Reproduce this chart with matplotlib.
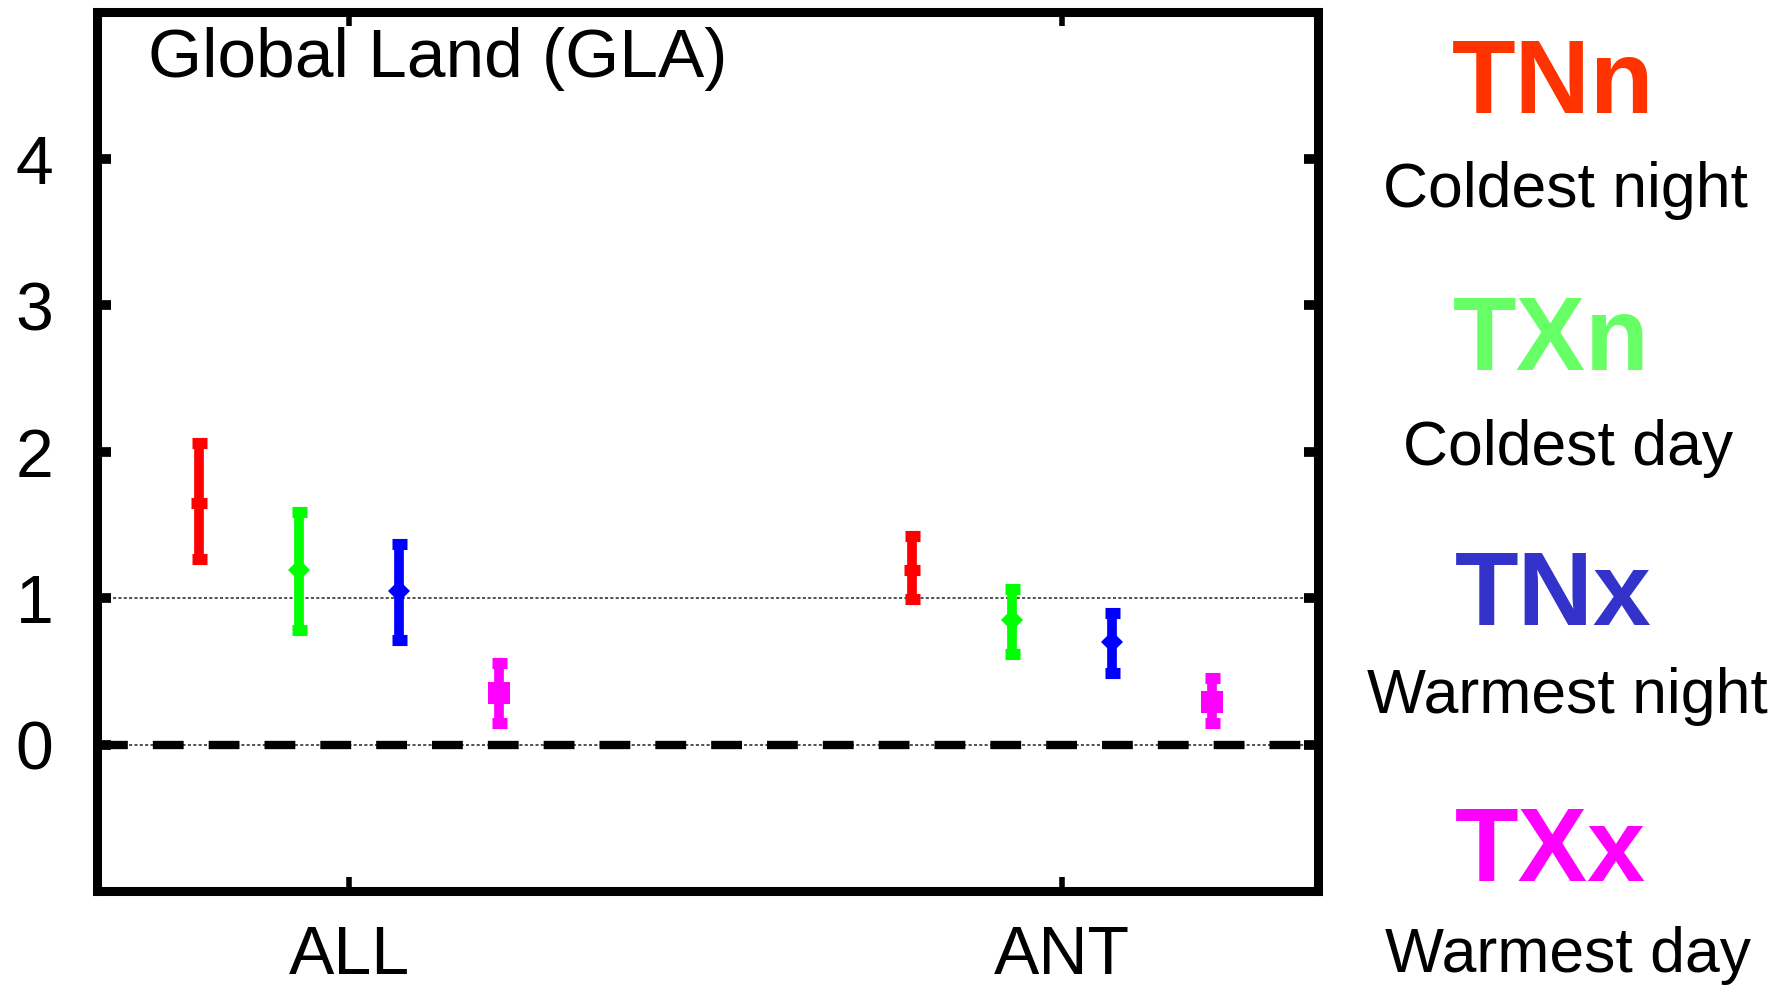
import matplotlib
matplotlib.use("Agg")
import matplotlib.pyplot as plt
import numpy as np

plt.rcParams['font.family'] = ['Liberation Sans', 'DejaVu Sans']

# ---- data ----
groups = ["ALL", "ANT"]
indices = ["TNn", "TXn", "TNx", "TXx"]
descriptions = ["Coldest night", "Coldest day", "Warmest night", "Warmest day"]
bar_colors = ["#FF0000", "#00FF00", "#0000FF", "#FF00FF"]
label_colors = ["#FF3300", "#66FF66", "#3333CC", "#FF00FF"]
offsets = [-0.21, -0.07, 0.07, 0.21]

# best estimates and ranges per index for ALL, ANT
best = {
    "TNn": [1.65, 1.19],
    "TXn": [1.19, 0.85],
    "TNx": [1.05, 0.70],
    "TXx": [0.35, 0.29],
}
low = {
    "TNn": [1.265, 0.99],
    "TXn": [0.78, 0.615],
    "TNx": [0.71, 0.49],
    "TXx": [0.145, 0.145],
}
high = {
    "TNn": [2.06, 1.425],
    "TXn": [1.585, 1.06],
    "TNx": [1.37, 0.90],
    "TXx": [0.555, 0.457],
}
yticks = [0, 1, 2, 3, 4]
title = "Global Land (GLA)"

W, H = 1791, 988
fig = plt.figure(figsize=(W / 100, H / 100), dpi=100)
ax = fig.add_axes([96.5 / W, 1 - 891 / H, (1318 - 96.5) / W, (891 - 12) / H])

xpos = np.arange(1, len(groups) + 1)
ax.set_xlim(0.646, 2.359)
ax.set_ylim(-1, 5)

# reference lines
ax.axhline(1, color="#222222", lw=1.1, ls=(0, (2.0, 1.5)), zorder=1)
ax.axhline(0, color="#222222", lw=1.1, ls=(0, (2.0, 1.5)), zorder=1)
ax.axhline(0, color="black", lw=6, ls=(0, (3.7, 3.0)), zorder=1)

markers = ["_", "D", "D", "s"]
msizes = [11, 11, 11, 16]
mews = [8, 0, 0, 0]
for i, key in enumerate(indices):
    x = xpos + offsets[i]
    b = np.array(best[key])
    lo = np.array(low[key])
    hi = np.array(high[key])
    ax.errorbar(x, b, yerr=[b - lo, hi - b], fmt="none",
                ecolor=bar_colors[i], elinewidth=7, capsize=5.4, capthick=8,
                zorder=3)
    ax.plot(x, b, ls="none", marker=markers[i], color=bar_colors[i],
            markersize=msizes[i], markeredgewidth=mews[i], zorder=4)

for s in ax.spines.values():
    s.set_linewidth(6.5)

ax.set_yticks(yticks)
ax.set_yticklabels([str(t) for t in yticks])
ax.set_xticks(xpos)
ax.set_xticklabels(groups)
ax.tick_params(axis="y", direction="in", length=10, width=7, labelsize=49,
               pad=31, left=True, right=True)
ax.tick_params(axis="x", direction="in", length=10, width=4, labelsize=49,
               pad=24, bottom=True, top=True)

ax.text(0.042, 0.926, title, transform=ax.transAxes, fontsize=50,
        ha="left", va="baseline")

# right-side legend text
code_pos = [(1553, 113), (1551, 370), (1553, 625), (1550, 881)]
desc_pos = [(1565, 207), (1568, 465), (1567, 713), (1568, 972)]
for i in range(4):
    cx, cy = code_pos[i]
    fig.text(cx / W, 1 - cy / H, indices[i], color=label_colors[i], fontsize=75,
             fontweight="bold", ha="center", va="baseline")
    dx, dy = desc_pos[i]
    fig.text(dx / W, 1 - dy / H, descriptions[i], color="black", fontsize=45,
             ha="center", va="baseline")

fig.savefig("out.png", dpi=100)
